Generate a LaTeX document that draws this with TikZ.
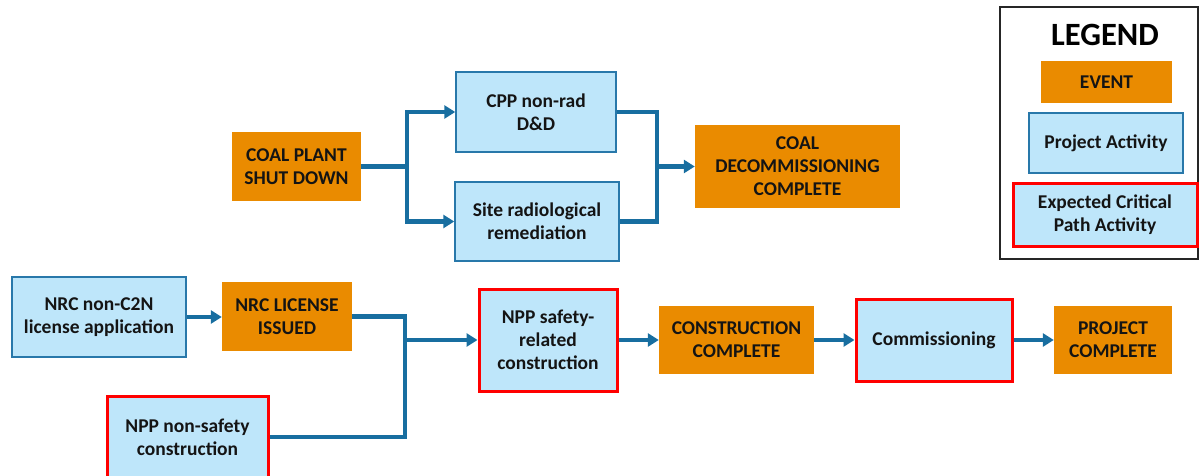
\documentclass[tikz,border=0pt]{standalone}
\usepackage{fontspec}
\setmainfont{Carlito}
\usetikzlibrary{arrows.meta}
\definecolor{evfill}{RGB}{234,139,0}
\definecolor{actfill}{RGB}{190,230,250}
\definecolor{actdraw}{RGB}{40,120,170}
\definecolor{conncol}{RGB}{24,110,160}
\definecolor{critred}{RGB}{255,0,0}
\definecolor{txt}{RGB}{20,20,20}
\tikzset{
  base/.style={inner sep=0pt, align=center, text=txt,
    font=\fontsize{19.5}{23}\selectfont\bfseries},
  event/.style={base, fill=evfill, draw=none},
  activity/.style={base, fill=actfill, draw=actdraw, line width=1.5pt},
  critical/.style={base, fill=actfill, draw=critred, line width=3pt},
  wire/.style={draw=conncol, line width=4.4pt},
  flow/.style={wire, -{Triangle[length=11pt,width=13pt]}},
}
\begin{document}
\begin{tikzpicture}[x=1pt,y=-1pt]
\useasboundingbox (0,0) rectangle (1199,476);
% top network
\node[event, minimum width=129pt, minimum height=69pt] (coal) at (296.5,166.5) {COAL PLANT\\SHUT DOWN};
\node[activity, minimum width=160pt, minimum height=80pt] (cpp) at (536,112) {CPP non-rad\\D\&D};
\node[activity, minimum width=164pt, minimum height=79pt] (site) at (537,221.5) {Site radiological\\remediation};
\node[event, minimum width=205pt, minimum height=83pt] (decomm) at (797.5,166.5) {COAL\\DECOMMISSIONING\\COMPLETE};
\coordinate (s1) at (407,166.5);
\coordinate (m1) at (657,166.5);
\draw[wire] (coal.east) -- (s1);
\draw[flow] (s1) |- (cpp.west);
\draw[flow] (s1) |- (site.west);
\draw[wire, line join=miter] (cpp.east) -| (m1) |- (site.east);
\draw[flow] (m1) -- (decomm.west);
% bottom network
\node[activity, minimum width=174pt, minimum height=80pt] (app) at (99,317) {NRC non-C2N\\license application};
\node[event, minimum width=130pt, minimum height=69pt] (issued) at (287,316.5) {NRC LICENSE\\ISSUED};
\node[critical, minimum width=161pt, minimum height=82pt] (nonsafe) at (187.5,437) {NPP non-safety\\construction};
\node[critical, minimum width=138pt, minimum height=102pt] (safety) at (548,340) {NPP safety-\\related\\construction};
\node[event, minimum width=155pt, minimum height=68pt] (cc) at (736.5,340) {CONSTRUCTION\\COMPLETE};
\node[critical, minimum width=156pt, minimum height=82pt] (comm) at (934,340) {Commissioning};
\node[event, minimum width=118pt, minimum height=68pt] (proj) at (1113,340) {PROJECT\\COMPLETE};
\coordinate (m2) at (405,340);
\draw[flow] (app.east) -- (app.east -| issued.west);
\draw[wire, line join=miter] (issued.east) -| (m2) |- (nonsafe.east);
\draw[flow] (m2) -- (safety.west);
\draw[flow] (safety.east) -- (cc.west);
\draw[flow] (cc.east) -- (comm.west);
\draw[flow] (comm.east) -- (proj.west);
% legend
\node[draw=black!85, line width=2pt, minimum width=198pt, minimum height=252pt, inner sep=0pt] (legend) at (1099,133) {};
\node[base, font=\fontsize{32.5}{38}\selectfont\bfseries, text=black] (ltitle) at (1105,35) {LEGEND};
\node[event, minimum width=131pt, minimum height=42pt] (levent) at (1106.5,82) {EVENT};
\node[activity, minimum width=154pt, minimum height=60pt] (lact) at (1106,143) {Project Activity};
\node[critical, minimum width=184pt, minimum height=63pt] (lcrit) at (1105,214.5) {Expected Critical\\Path Activity};
\end{tikzpicture}
\end{document}
